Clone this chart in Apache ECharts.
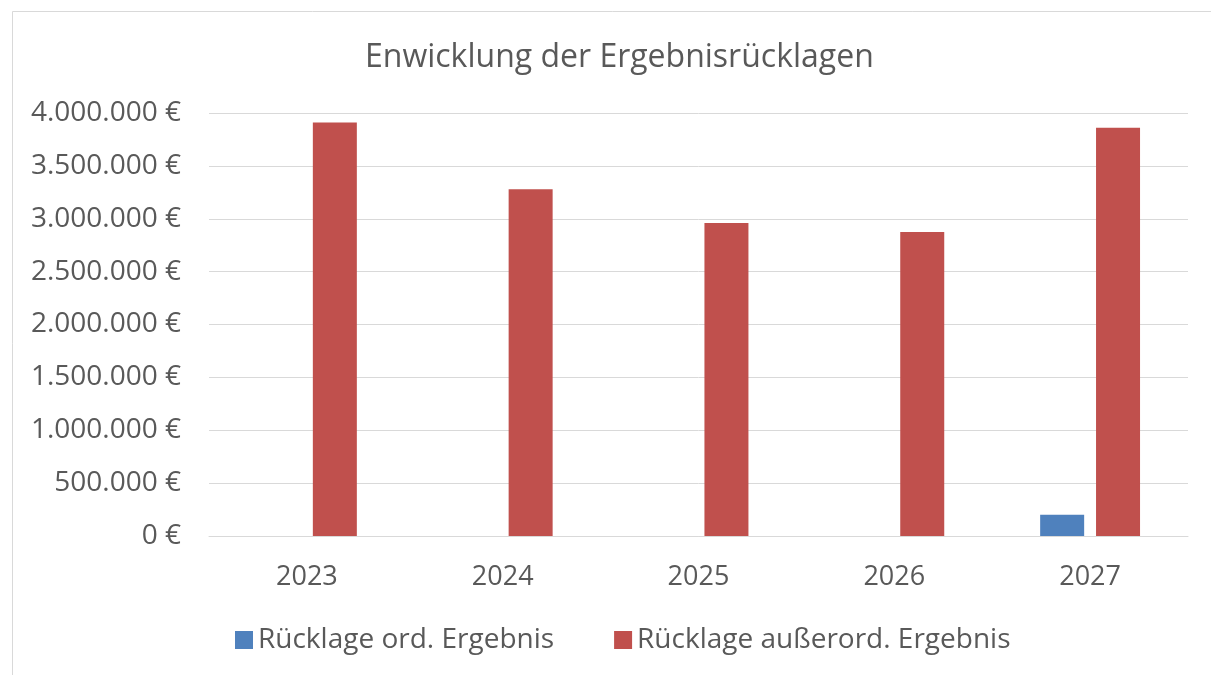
<!DOCTYPE html>
<html><head><meta charset="utf-8">
<script src="https://cdn.jsdelivr.net/npm/echarts@6/dist/echarts.min.js"></script>
<style>html,body{margin:0;padding:0;background:#fff}#c{width:1211px;height:675px}</style>
</head><body><div id="c"></div>
<script>
const categories = ['2023', '2024', '2025', '2026', '2027'];
const ordErgebnis = [0, 0, 0, 0, 200000];
const ausserordErgebnis = [3910000, 3280000, 2960000, 2875000, 3860000];
const seriesNames = ['Rücklage ord. Ergebnis', 'Rücklage außerord. Ergebnis'];
const titleText = 'Enwicklung der Ergebnisrücklagen';

const font = 'Open Sans';
const txt = '#595959';
function fmt(v) {
  return String(v).replace(/\B(?=(\d{3})+(?!\d))/g, '.') + ' €';
}
const chart = echarts.init(document.getElementById('c'));
chart.setOption({
  animation: false,
  backgroundColor: '#fff',
  graphic: [{type: 'rect', shape: {x: 12.5, y: 11.5, width: 1200, height: 670}, style: {fill: 'none', stroke: '#d9d9d9', lineWidth: 1}}],
  title: {text: titleText, left: 360, top: 37, textStyle: {fontFamily: font, fontSize: 32, fontWeight: 'normal', color: txt}},
  legend: {
    bottom: 16, left: 230, itemWidth: 18, itemHeight: 18, itemGap: 60, icon: 'rect',
    textStyle: {fontFamily: font, fontSize: 28, color: txt}
  },
  grid: {left: 209, right: 23, top: 113, bottom: 139, containLabel: false},
  xAxis: {
    type: 'category', data: categories,
    axisLine: {lineStyle: {color: '#d9d9d9', width: 1}}, axisTick: {show: false},
    axisLabel: {fontFamily: font, fontSize: 27, color: txt, margin: 28}
  },
  yAxis: {
    type: 'value', min: 0, max: 4000000, interval: 500000,
    axisLine: {show: false}, axisTick: {show: false},
    splitLine: {lineStyle: {color: '#d9d9d9', width: 1}},
    axisLabel: {fontFamily: font, fontSize: 28, color: txt, margin: 28, formatter: fmt}
  },
  series: [
    {name: seriesNames[0], type: 'bar', data: ordErgebnis, barWidth: 44, barGap: '27%', itemStyle: {color: '#4f81bd'}},
    {name: seriesNames[1], type: 'bar', data: ausserordErgebnis, barWidth: 44, itemStyle: {color: '#c0504d'}}
  ]
});
</script></body></html>
